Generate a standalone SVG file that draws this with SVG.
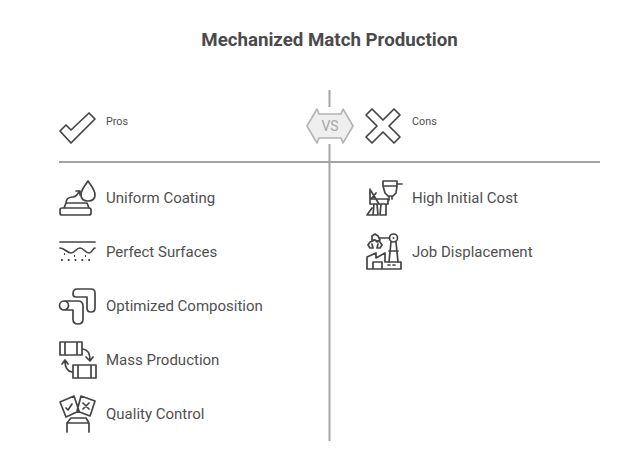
<svg xmlns="http://www.w3.org/2000/svg" width="625" height="471" viewBox="0 0 625 471">
<style>
text{font-family:Roboto,"Liberation Sans",sans-serif;fill:#4f4f4f}
.t{font-size:15px}
.s{font-size:10.800px}
.i{fill:none;stroke:#444;stroke-width:1.700;stroke-linejoin:round;stroke-linecap:round}
.l{stroke:#a3a3a3;stroke-width:2;fill:none}
</style>
<rect width="625" height="471" fill="#fff"/>
<text x="329.500" y="46" text-anchor="middle" style="font-size:18.700px;font-weight:700;fill:#4a4a4a">Mechanized Match Production</text>
<g id="connectors">
<path class="l" d="M59 162H600"/>
<path class="l" d="M329.500 90V107M329.500 144V441"/>
</g>
<g id="vs">
<path d="M307 126L317 109L319 114H341L343 109L353 126L343 143L341 138H319L317 143Z" fill="#efefef" stroke="#b4b4b4" stroke-width="1.600" stroke-linejoin="round"/>
<text x="330" y="131" text-anchor="middle" style="font-size:14px;fill:#a8a8a8">VS</text>
</g>
<g id="pros-head">
<path class="i" d="M60 131L66 125L71 130L89 113L95 119L71 143Z"/>
<text class="s" x="106" y="125">Pros</text>
</g>
<g id="cons-head">
<path class="i" d="M366 115L372 109L383 120L394 109L400 115L389 126L400 137L394 143L383 132L372 143L366 137L377 126Z"/>
<text class="s" x="412" y="125">Cons</text>
</g>
<g id="uniform-coating">
<path class="i" d="M88 181C84 187 81 190 81 195C81 199 84 201 88 201C92 201 95 199 95 195C95 190 92 187 88 181Z"/>
<path class="i" d="M66 203C66 198 70 197 73 197C76 197 77 195 79 192M76 191L80 191L80 195M66 203H87L89 208M66 203L64 208M60 210Q60 208 62 208H89Q91 208 91 210V213Q91 215 89 215H62Q60 215 60 213Z"/>
<text class="t" x="106" y="203">Uniform Coating</text>
</g>
<g id="perfect-surfaces">
<path class="i" d="M60 242H95"/>
<path class="i" d="M60 248C65 248 67 253 71 253C75 253 76 248 80 248C84 248 85 253 89 253C92 253 93 248 95 248"/>
<path d="M61 260H95M64 254H65M74 256H75M85 256H86" fill="none" stroke="#484848" stroke-width="1.800" stroke-dasharray="1.800 5"/>
<text class="t" x="106" y="257">Perfect Surfaces</text>
</g>
<g id="optimized-composition">
<path class="i" d="M73 294Q73 289 77 289H91Q95 289 95 293V308Q95 312 91 312Q87 312 87 308V297H76Q73 297 73 294Z"/>
<path class="i" d="M64 301H78Q83 301 83 306V319Q83 324 78 324Q73 324 73 319V310H64M64 301A4.500 4.500 0 0 0 64 310A4.500 4.500 0 0 0 64 301Z"/>
<text class="t" x="106" y="311">Optimized Composition</text>
</g>
<g id="mass-production">
<path class="i" d="M60 342H82V355H60ZM65 342V355M77 342V355M73 365H96V378H73ZM78 365V378M91 365V378"/>
<path class="i" d="M83 349Q90 350 90 360M86 357L90 361L93 357M72 372Q65 371 65 361M62 364L65 360L68 364"/>
<text class="t" x="106" y="365">Mass Production</text>
</g>
<g id="quality-control">
<path class="i" d="M60 402L74 396L79 411L66 417ZM81 396L95 401L90 416L77 411Z"/>
<path class="i" d="M66 408L68 410L72 404M83 403L89 409M89 403L83 409"/>
<path class="i" d="M67 432V423L71 418H86L89 423V432M67 423H89"/>
<text class="t" x="106" y="419">Quality Control</text>
</g>
<g id="high-initial-cost">
<path class="i" d="M383 181H397V186L396 193L393 196H388L385 193L383 186ZM383 186H397M397 184H402M389 196V200M392 196V199"/>
<path class="i" d="M370 189V204M371 191L379 204M371 199L376 193M370 204H388V199H370M374 204L373 215H367L372 208M377 204L378 215H373M381 204L380 215M386 204L386 215H380"/>
<text class="t" x="412" y="203">High Initial Cost</text>
</g>
<g id="job-displacement">
<path class="i" d="M372 236L375 234L378 236L380 240L377 242L375 240H372ZM375 240L370 242L368 245L370 248L373 248L372 244M375 240L380 242L382 245L380 248L377 248L378 244M380 238H389"/>
<circle class="i" cx="393.500" cy="238" r="4"/>
<circle cx="393.500" cy="238" r="1" fill="#444"/>
<path class="i" d="M391 242L389 262M396 242L398 262M389 251H398"/>
<path class="i" d="M367 269V257L376 253V258L385 253V262H401V269H367ZM373 269V262H382V269M388 265H390M393 265H395"/>
<text class="t" x="412" y="257">Job Displacement</text>
</g>
</svg>
